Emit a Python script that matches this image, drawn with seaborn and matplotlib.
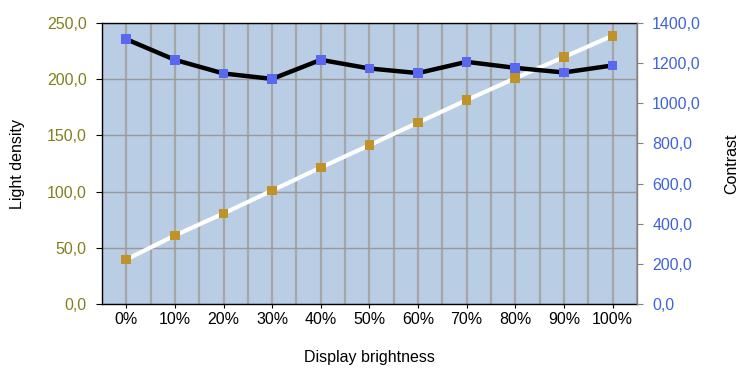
import matplotlib
matplotlib.use("Agg")
import matplotlib.pyplot as plt
import seaborn as sns
import numpy as np
import pandas as pd
from matplotlib.ticker import FuncFormatter, MultipleLocator

# data
brightness = ["0%", "10%", "20%", "30%", "40%", "50%", "60%", "70%", "80%", "90%", "100%"]
light_density = [39.6, 61.0, 80.6, 101.0, 121.5, 141.3, 161.5, 181.5, 201.0, 219.8, 238.8]
contrast = [1320, 1217, 1149, 1122, 1217, 1174, 1151, 1207, 1177, 1154, 1189]

df = pd.DataFrame({
    "pos": np.arange(len(brightness)),
    "brightness": brightness,
    "light_density": light_density,
    "contrast": contrast,
})

sns.set_style("white")
plt.rcParams["font.family"] = ["Liberation Sans", "DejaVu Sans"]
plt.rcParams["text.color"] = "black"
plt.rcParams["axes.labelcolor"] = "black"

fig = plt.figure(figsize=(7.44, 3.76), dpi=100)
ax = fig.add_axes([0.137, 0.1915, 0.719, 0.747])
ax2 = ax.twinx()

bg = "#B9CDE5"
grid_c = "#A6A6A6"
fs = 11.5
ax.set_facecolor(bg)

# light density on left axis
sns.lineplot(data=df, x="pos", y="light_density", ax=ax, color="white", lw=3, zorder=3)
sns.scatterplot(data=df, x="pos", y="light_density", ax=ax, marker="s", s=48,
                color="#C0922A", edgecolor="none", zorder=4)

# contrast on right axis
sns.lineplot(data=df, x="pos", y="contrast", ax=ax2, color="black", lw=3.2, zorder=3)
sns.scatterplot(data=df, x="pos", y="contrast", ax=ax2, marker="s", s=48,
                color="#5868F0", edgecolor="none", zorder=4)

ax.set_xlim(-0.5, len(brightness) - 0.5)
ax.set_ylim(0, 250)
ax2.set_ylim(0, 1400)

ax.set_xticks(df["pos"])
ax.set_xticklabels(brightness)
ax.xaxis.set_minor_locator(MultipleLocator(1, offset=0.5))
ax.yaxis.set_major_locator(MultipleLocator(50))
ax2.yaxis.set_major_locator(MultipleLocator(200))

fmt = FuncFormatter(lambda v, p: f"{v:.1f}".replace(".", ","))
ax.yaxis.set_major_formatter(fmt)
ax2.yaxis.set_major_formatter(fmt)

# grid: vertical at centres and boundaries, horizontal at left ticks
ax.grid(True, axis="x", which="both", color=grid_c, lw=1.6)
ax.grid(True, axis="y", which="major", color="#999999", lw=1.0)
ax.set_axisbelow(True)
ax2.grid(False)

ax.tick_params(axis="x", which="major", length=3, direction="out", color="black",
               labelsize=fs, labelcolor="black", pad=3, bottom=True)
ax.tick_params(axis="x", which="minor", length=0)
ax.tick_params(axis="y", length=4, direction="out", color="black", labelsize=fs,
               labelcolor="#808020", left=True, pad=7)
ax2.tick_params(axis="y", length=4, direction="out", color="#808080", labelsize=fs,
                labelcolor="#3F63D8", right=True, pad=7)

for s in ["top", "left", "bottom"]:
    ax.spines[s].set_color("black")
    ax.spines[s].set_linewidth(1.0)
ax.spines["right"].set_visible(False)
for s in ["top", "left", "bottom"]:
    ax2.spines[s].set_visible(False)
ax2.spines["right"].set_color("#808080")
ax2.spines["right"].set_linewidth(1.0)

ax.set_xlabel("Display brightness", fontsize=fs, labelpad=16)
ax.set_ylabel("Light density", fontsize=fs, labelpad=16)
ax2.set_ylabel("Contrast", fontsize=fs, labelpad=17)

fig.savefig("out.png", dpi=100)
